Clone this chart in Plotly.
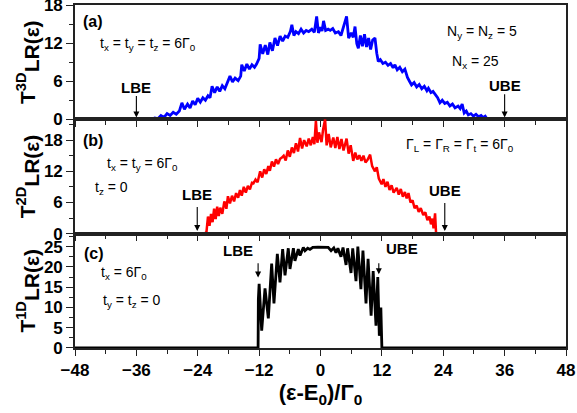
import plotly.graph_objects as go
from plotly.subplots import make_subplots

# Panel (a): 3D transmission
x_3d = [-48, -33, -32.4, -31.8, -31.2, -30.6, -30.0, -29.4, -28.8, -28.2, -27.6, -27.1, -26.6, -26.0,
        -25.5, -25.0, -24.5, -24.0, -23.5, -23.0, -22.5, -22.0, -21.6, -21.2, -20.7, -20.2, -19.7,
        -19.2, -18.7, -18.3, -17.7, -17.2, -16.7, -16.1, -15.6, -15.4, -14.9, -14.4, -13.9, -13.4,
        -12.9, -12.5, -12.0, -11.8, -11.3, -10.8, -10.3, -9.9, -9.4, -8.9, -8.4, -7.9, -7.4, -6.9,
        -6.4, -5.9, -5.6, -5.2, -4.8, -4.3, -3.8, -3.3, -2.8, -2.3, -1.7, -1.2, -0.75, -0.4, 0.0,
        0.3, 0.6, 1.0, 1.5, 1.9, 2.4, 2.9, 3.5, 4.0, 4.5, 5.1, 5.5, 6.0, 6.4, 6.75, 7.1, 7.4, 7.8,
        8.2, 8.6, 9.0, 9.4, 9.8, 10.2, 10.65, 11.0, 11.3, 11.7, 12.2, 12.7, 13.2, 13.7, 14.2, 14.55,
        15.0, 15.5, 16.0, 16.5, 17.0, 17.4, 17.8, 18.3, 18.8, 19.3, 19.8, 20.3, 20.8, 21.1, 21.6,
        22.0, 22.4, 22.9, 23.35, 23.8, 24.3, 24.8, 25.3, 25.8, 26.3, 26.9, 27.3, 27.7, 28.1, 28.5,
        28.9, 29.4, 29.9, 30.4, 30.9, 31.4, 31.8, 32.2, 32.6, 48]
t_3d = [0, 0, 0.2, 0.1, 0.6, 0.3, 0.9, 0.6, 1.1, 0.8, 1.3, 2.6, 1.6, 2.4,
        1.8, 2.9, 2.3, 3.3, 2.7, 3.4, 3.0, 3.7, 3.4, 5.2, 4.2, 5.1, 4.4,
        5.3, 4.8, 5.5, 6.8, 5.9, 6.5, 6.1, 6.8, 8.6, 7.6, 8.7, 7.9, 8.6,
        8.2, 8.7, 9.6, 11.8, 10.3, 11.7, 10.2, 12.1, 10.8, 12.8, 11.6, 13.1, 12.3, 13.1,
        12.9, 13.8, 14.9, 13.2, 13.8, 13.5, 14.2, 13.6, 14.0, 13.8, 14.2, 13.7, 16.2, 13.6, 14.5,
        13.9, 15.5, 14.0, 14.2, 14.0, 14.3, 13.6, 13.8, 13.2, 14.4, 16.2, 12.8, 13.6, 12.9, 14.6, 11.9, 11.2, 13.2,
        11.5, 13.4, 11.4, 12.8, 11.0, 12.5, 12.8, 10.4, 9.1, 9.4, 8.8, 9.0, 8.5, 8.8, 8.1, 8.6,
        7.8, 8.2, 7.5, 7.9, 6.6, 6.0, 5.4, 5.8, 5.1, 5.5, 4.8, 5.2, 4.5, 4.9, 4.2,
        4.4, 3.9, 3.4, 2.6, 3.0, 2.5, 2.7, 2.1, 2.4, 1.8, 2.1, 1.7, 2.4, 1.0, 1.3,
        0.7, 0.9, 0.5, 0.8, 0.4, 0.6, 0.3, 0.5, 0.0, 0]

# Panel (b): 2D transmission
x_2d = [-48, -22.7, -22.3, -22.0, -21.7, -21.4, -21.1, -20.8, -20.5, -20.2, -19.9, -19.6, -19.2,
        -18.8, -18.4, -18.1, -17.7, -17.3, -16.9, -16.5, -16.1, -15.75, -15.4, -15.0, -14.6, -14.2,
        -13.8, -13.4, -13.1, -12.7, -12.3, -11.8, -11.4, -11.0, -10.6, -10.2, -9.9, -9.5, -9.1,
        -8.7, -8.3, -7.9, -7.6, -7.2, -6.8, -6.4, -6.0, -5.6, -5.2, -4.8, -4.4, -4.0, -3.6, -3.2,
        -2.7, -2.3, -1.9, -1.5, -1.2, -0.9, -0.6, -0.3, 0.2, 0.5, 0.9, 1.2, 1.6, 2.0, 2.5, 2.9,
        3.3, 3.7, 4.1, 4.5, 5.1, 5.5, 5.9, 6.4, 6.8, 7.2, 7.6, 8.0, 8.4, 8.8, 9.2, 9.7, 10.1,
        10.65, 11.0, 11.4, 11.96, 12.3, 12.7, 13.1, 13.5, 13.9, 14.3, 14.9, 15.3, 15.7, 16.1,
        16.5, 16.85, 17.2, 17.6, 18.0, 18.4, 18.8, 19.2, 19.6, 20.1, 20.5, 20.9, 21.3, 21.6,
        21.9, 22.1, 22.4, 22.6, 48]
t_2d = [0, 0, 0.3, 3.3, 1.5, 3.8, 2.2, 4.8, 2.8, 5.2, 3.4, 5.0, 3.8,
        6.2, 4.8, 7.2, 5.8, 7.3, 6.2, 7.8, 6.9, 8.4, 7.3, 9.0, 7.9, 9.2,
        8.5, 9.8, 9.7, 10.4, 9.9, 12.0, 10.8, 12.4, 11.5, 13.0, 12.1, 13.9, 12.9,
        14.3, 13.4, 14.4, 14.6, 15.0, 14.1, 16.0, 14.8, 16.6, 15.5, 17.4, 15.8, 18.4, 16.4, 18.0,
        16.8, 18.3, 17.0, 18.6, 17.2, 21.7, 17.5, 19.5, 17.6, 20.0, 22.0, 17.0, 19.2, 16.6, 18.5, 16.5,
        18.6, 16.3, 18.2, 16.0, 18.3, 15.4, 17.0, 14.0, 15.6, 14.3, 15.1, 14.0, 15.0, 13.7, 14.2, 15.2, 13.0,
        12.0, 12.8, 10.6, 9.5, 10.5, 9.0, 10.0, 8.4, 9.3, 7.9, 8.8, 7.5, 8.6, 7.1,
        8.0, 6.8, 7.8, 6.0, 6.4, 4.9, 5.4, 4.2, 4.9, 3.6, 4.1, 2.6, 3.3, 1.8,
        2.9, 1.0, 3.9, 0, 0]

# Panel (c): 1D transmission
x_1d = [-48, -12.2, -12.15, -12.0, -11.5, -10.85, -10.2, -9.55, -9.1, -8.44, -7.92, -7.4, -6.94,
        -6.3, -5.97, -5.3, -5.0, -4.34, -4.0, -3.36, -3.03, -2.5, -2.06, -1.5, -0.5, 0.5, 1.5,
        2.06, 2.6, 3.03, 3.4, 4.0, 4.4, 5.0, 5.3, 5.97, 6.3, 6.94, 7.3, 7.9, 8.3, 8.9, 9.3, 9.9,
        10.3, 10.85, 11.2, 11.5, 11.8, 12.0, 48]
t_1d = [0, 0, 12.0, 15.8, 4.3, 14.7, 7.3, 20.8, 11.0, 23.2, 16.2, 24.4, 17.9,
        24.6, 19.5, 24.6, 21.5, 24.4, 22.8, 24.8, 24.0, 24.6, 24.3, 24.8, 24.9, 24.9, 24.8,
        24.0, 24.7, 23.5, 24.6, 22.5, 24.8, 20.5, 24.6, 18.5, 24.6, 16.5, 25.0, 14.5, 24.0, 11.0, 22.0, 8.0,
        19.0, 5.5, 17.5, 3.0, 10.0, 0, 0]

x_ticks = [-48, -36, -24, -12, 0, 12, 24, 36, 48]

fig = make_subplots(rows=3, cols=1, shared_xaxes=True, vertical_spacing=0)

fig.add_trace(go.Scatter(x=x_3d, y=t_3d, mode="lines", line=dict(color="#0000FF", width=2.8)), row=1, col=1)
fig.add_trace(go.Scatter(x=x_2d, y=t_2d, mode="lines", line=dict(color="#FF0000", width=2.5)), row=2, col=1)
fig.add_trace(go.Scatter(x=x_1d, y=t_1d, mode="lines", line=dict(color="#000000", width=2.8)), row=3, col=1)

FAM = "Liberation Sans, Arial"
tickfont = dict(family=FAM, size=17, color="black", weight="bold")
axline = dict(showline=True, linecolor="#222222", linewidth=1.6, mirror=True, zeroline=False,
              showgrid=False, ticks="outside", tickcolor="#222222", tickwidth=1.3,
              ticklabeloverflow="allow", automargin=False)

for r in (1, 2, 3):
    fig.update_xaxes(range=[-48, 48], tickvals=x_ticks, ticklen=6,
                     minor=dict(dtick=6, tick0=0, ticklen=4, ticks="outside", tickcolor="#222222"),
                     showticklabels=(r == 3), tickfont=tickfont, **axline, row=r, col=1)

fig.update_yaxes(range=[0, 18], tickvals=[0, 6, 12, 18], ticklen=7,
                 minor=dict(dtick=3, tick0=0, ticklen=4, ticks="outside", tickcolor="#222222"),
                 tickfont=tickfont, **axline, row=1, col=1)
fig.update_yaxes(range=[0, 22], tickvals=[0, 6, 12, 18], ticklen=7,
                 minor=dict(dtick=3, tick0=0, ticklen=4, ticks="outside", tickcolor="#222222"),
                 tickfont=tickfont, **axline, row=2, col=1)
fig.update_yaxes(range=[0, 28.2], tickvals=[0, 5, 10, 15, 20, 25], ticklen=7,
                 minor=dict(dtick=2.5, tick0=0, ticklen=4, ticks="outside", tickcolor="#222222"),
                 tickfont=tickfont, **axline, row=3, col=1)

titlefont = dict(family=FAM, size=21, color="black", weight="bold")
def ytitle(dim):
    return ("T<sup>" + dim + "</sup><sub><span style='font-size:21px'>LR(ε)</span></sub>")
fig.update_yaxes(title=dict(text=ytitle("3D"), font=titlefont, standoff=3), row=1, col=1)
fig.update_yaxes(title=dict(text=ytitle("2D"), font=titlefont, standoff=3), row=2, col=1)
fig.update_yaxes(title=dict(text=ytitle("1D"), font=titlefont, standoff=3), row=3, col=1)
fig.update_xaxes(title=dict(text="(ε-E<sub>0</sub>)/Γ<sub>0</sub>",
                            font=dict(family=FAM, size=22, color="black", weight="bold"), standoff=2),
                 row=3, col=1)

txt = dict(family=FAM, size=14, color="black")
bold = dict(family=FAM, size=15, color="black", weight="bold")
lbl = dict(family=FAM, size=16, color="black", weight="bold")

annots = [
    ("x", "y", -44.5, 15.4, "(a)", lbl),
    ("x", "y", -33.7, 11.9, "t<sub>x</sub> = t<sub>y</sub> = t<sub>z</sub> = 6Γ<sub>0</sub>", txt),
    ("x", "y", 31.6, 13.7, "N<sub>y</sub> = N<sub>z</sub> = 5", txt),
    ("x", "y", 30.4, 9.1, "N<sub>x</sub> = 25", txt),
    ("x", "y", -36, 5.0, "LBE", bold),
    ("x", "y", 36, 5.3, "UBE", bold),
    ("x2", "y2", -44.5, 18.0, "(b)", lbl),
    ("x2", "y2", -34.9, 13.4, "t<sub>x</sub> = t<sub>y</sub> = 6Γ<sub>0</sub>", txt),
    ("x2", "y2", -40.8, 8.8, "t<sub>z</sub> = 0", txt),
    ("x2", "y2", 27.3, 17.1, "Γ<sub>L</sub> = Γ<sub>R</sub> = Γ<sub>t</sub> = 6Γ<sub>0</sub>", txt),
    ("x2", "y2", -24.2, 7.5, "LBE", bold),
    ("x2", "y2", 24.3, 8.4, "UBE", bold),
    ("x3", "y3", -44.3, 23.3, "(c)", lbl),
    ("x3", "y3", -38.4, 18.6, "t<sub>x</sub> = 6Γ<sub>0</sub>", txt),
    ("x3", "y3", -36.9, 11.7, "t<sub>y</sub> = t<sub>z</sub> = 0", txt),
    ("x3", "y3", -16.1, 24.0, "LBE", bold),
    ("x3", "y3", 15.9, 24.5, "UBE", bold),
]
for xr, yr, xv, yv, t, f in annots:
    fig.add_annotation(xref=xr, yref=yr, x=xv, y=yv, text=t, font=f, showarrow=False)

arrows = [
    ("x", "y", -36, 0.3, -36, 3.9),
    ("x", "y", 36, 0.3, 36, 4.2),
    ("x2", "y2", -24.1, 0.5, -24.1, 5.4),
    ("x2", "y2", 24.3, 0.5, 24.3, 6.2),
    ("x3", "y3", -12.2, 17.4, -12.2, 21.3),
    ("x3", "y3", 11.4, 18.2, 11.4, 21.3),
]
for xr, yr, xt, yt, xa, ya in arrows:
    fig.add_annotation(xref=xr, yref=yr, axref=xr, ayref=yr, x=xt, y=yt, ax=xa, ay=ya,
                       text="", showarrow=True, arrowhead=2, arrowsize=1.1, arrowwidth=1.1,
                       arrowcolor="black")

fig.update_layout(width=577, height=413, margin=dict(l=75, r=11, t=5, b=65),
                  paper_bgcolor="white", plot_bgcolor="white", showlegend=False,
                  font=dict(family=FAM, color="black"))

fig.write_html("out.html")
